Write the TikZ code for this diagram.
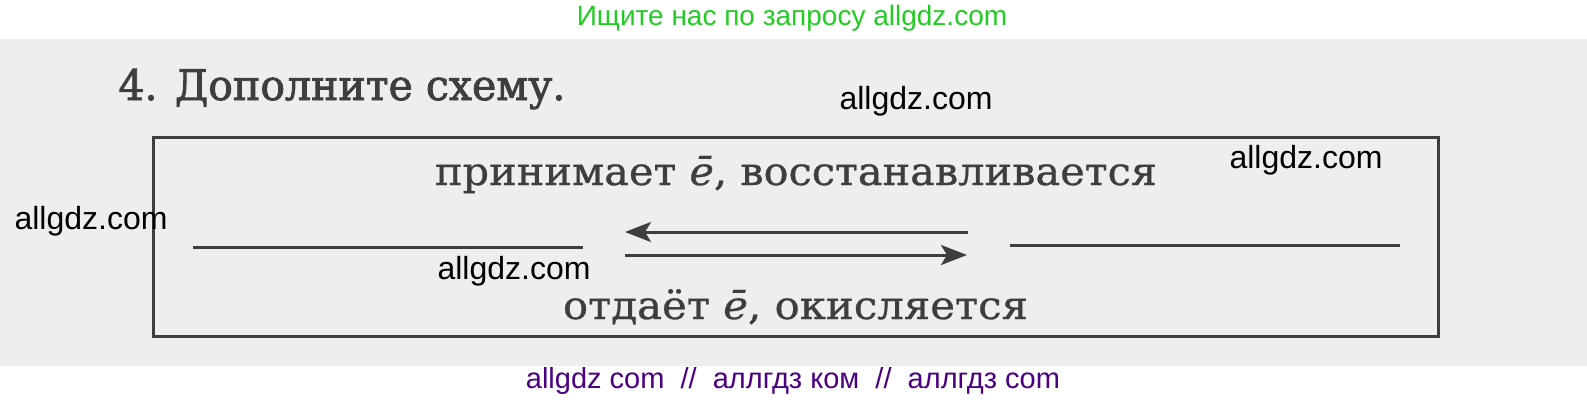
\documentclass[tikz,border=0pt]{standalone}
\usepackage{fontspec}
\setmainfont[FakeBold=0.7]{DejaVu Serif}
\newfontfamily\titlefont[FakeBold=2]{DejaVu Serif}
\newfontfamily\wmfont{Liberation Sans}
\usetikzlibrary{arrows.meta}
\definecolor{scanbg}{RGB}{238,238,240}
\definecolor{ink}{RGB}{62,62,62}
\definecolor{wmgreen}{RGB}{34,204,34}
\definecolor{wmpurple}{RGB}{75,0,130}
\begin{document}
\begin{tikzpicture}[x=0.5pt,y=-0.5pt,
  wm/.style={font=\wmfont\fontsize{16}{19}\selectfont, text=black, inner sep=0pt},
  topwm/.style={font=\wmfont\fontsize{14}{17}\selectfont, text=wmgreen, inner sep=0pt},
  botwm/.style={font=\wmfont\fontsize{14.5}{17}\selectfont, text=wmpurple, inner sep=0pt},
  titletext/.style={font=\titlefont\fontsize{21}{24}\selectfont, text=ink, inner sep=0pt},
  schemetext/.style={font=\fontsize{19.5}{22}\selectfont, text=ink, inner sep=0pt},
  frame/.style={draw=ink, line width=1.5pt, inner sep=0pt},
  blank/.style={draw=ink, line width=1.5pt},
  arr/.style={draw=ink, line width=1.5pt, -{Stealth[length=13pt,width=10pt,inset=3pt]}}
]
\useasboundingbox (0,0) rectangle (1587,404);
\fill[white] (0,0) rectangle (1587,404);
\fill[scanbg] (0,38.5) rectangle (1587,366);

\node[topwm] (top) at (792,18) {Ищите нас по запросу allgdz.com};
\node[botwm] (bot) at (793,381) {allgdz com\ \ //\ \ аллгдз ком\ \ //\ \ аллгдз com};

\node[titletext, anchor=base west] (title) at (118,100) {\resizebox{223.5pt}{\height}{4. Дополните\ схему.}};

\node[frame, minimum width=642.5pt, minimum height=99.5pt] (box) at (795.5,236.5) {};

\node[schemetext, anchor=base] (upper) at (796,185) {\resizebox{361pt}{\height}{принимает \textit{ē}, восстанавливается}};
\node[schemetext, anchor=base] (lower) at (795.5,319) {\resizebox{232.5pt}{\height}{отдаёт \textit{ē}, окисляется}};

\coordinate (l1) at (193,247);
\coordinate (l2) at (583,247);
\coordinate (r1) at (1010,245);
\coordinate (r2) at (1400,245);
\coordinate (a1) at (968,232);
\coordinate (a2) at (625,232);
\coordinate (b1) at (625,255);
\coordinate (b2) at (967,255);
\draw[blank] (l1) -- (l2);
\draw[blank] (r1) -- (r2);
\draw[arr] (a1) -- (a2);
\draw[arr] (b1) -- (b2);

\node[wm] (w1) at (916,101) {allgdz.com};
\node[wm] (w2) at (1306,160) {allgdz.com};
\node[wm] (w3) at (91,221) {allgdz.com};
\node[wm] (w4) at (514,271) {allgdz.com};
\end{tikzpicture}
\end{document}
